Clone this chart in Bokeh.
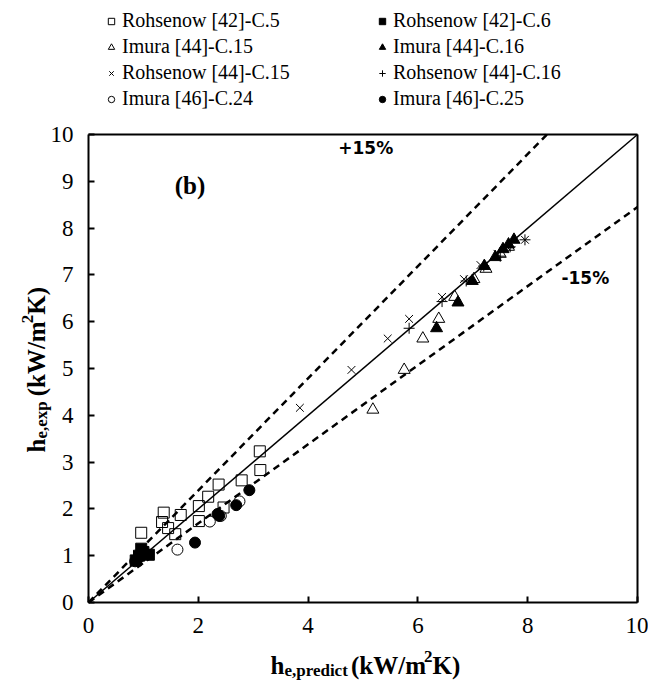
import math
from bokeh.plotting import figure
from bokeh.models import (Range1d, FixedTicker, Label, Legend, LegendItem, LinearAxis)
from bokeh.embed import file_html
from bokeh.resources import INLINE

# ---- data ----
c5_x = [0.96, 1.34, 1.37, 1.45, 1.58, 1.68, 2.01, 2.01, 2.18, 2.37, 2.46, 2.79, 3.12, 3.13]
c5_y = [1.49, 1.72, 1.92, 1.59, 1.46, 1.87, 1.74, 2.06, 2.26, 2.52, 2.03, 2.61, 3.23, 2.83]

c6_x = [0.86, 0.92, 0.96, 1.00, 1.10]
c6_y = [0.90, 1.00, 1.15, 1.08, 1.02]

im15_x = [5.18, 5.75, 6.09, 6.38, 6.67, 7.02, 7.24, 7.50, 7.65]
im15_y = [4.12, 4.97, 5.64, 6.06, 6.53, 6.91, 7.13, 7.45, 7.60]

im16_x = [6.34, 6.73, 6.99, 7.21, 7.41, 7.55, 7.65, 7.75]
im16_y = [5.86, 6.41, 6.87, 7.19, 7.38, 7.55, 7.65, 7.75]

ro15_x = [3.85, 4.79, 5.45, 5.84, 6.44, 6.84, 7.14, 7.45, 7.62, 7.95]
ro15_y = [4.16, 4.97, 5.64, 6.06, 6.53, 6.91, 7.21, 7.45, 7.60, 7.75]

ro16_x = [5.84, 6.44, 6.88, 7.20, 7.50, 7.68, 7.95]
ro16_y = [5.86, 6.43, 6.87, 7.19, 7.40, 7.60, 7.75]

im24_x = [0.88, 1.62, 2.21, 2.41, 2.75]
im24_y = [0.92, 1.13, 1.73, 1.85, 2.16]

im25_x = [0.85, 0.90, 1.94, 2.35, 2.38, 2.69, 2.93]
im25_y = [0.88, 0.95, 1.28, 1.89, 1.85, 2.08, 2.40]

diag_x = [0, 10]
diag_y = [0, 10]
upper_x = [0, 8.35]
upper_y = [0, 10]
lower_x = [0, 10]
lower_y = [0, 8.45]

x_ticks = [0, 2, 4, 6, 8, 10]
y_ticks = [0, 1, 2, 3, 4, 5, 6, 7, 8, 9, 10]
axis_min, axis_max = 0, 10

labels = ["Rohsenow [42]-C.5", "Rohsenow [42]-C.6",
          "Imura [44]-C.15", "Imura [44]-C.16",
          "Rohsenow [44]-C.15", "Rohsenow [44]-C.16",
          "Imura [46]-C.24", "Imura [46]-C.25"]

SERIF = "Liberation Serif, Times New Roman, serif"
SANS = "DejaVu Sans"

W, H = 648, 683
# the data box sits at x 88..637 px and y 134..602 px of the canvas
px_per_x = (637 - 88) / 10.0
px_per_y = (602 - 134) / 10.0
x_start = -88 / px_per_x
x_end = x_start + W / px_per_x
y_end = 602 / px_per_y
y_start = y_end - H / px_per_y

p = figure(width=W, height=H, output_backend="svg", toolbar_location=None,
           x_range=Range1d(x_start, x_end), y_range=Range1d(y_start, y_end),
           min_border=0, x_axis_location=None, y_axis_location=None)
p.grid.visible = False
p.background_fill_color = "white"
p.border_fill_color = "white"
p.outline_line_color = None


def make_axis(ticks, fixed, show_labels):
    ax = LinearAxis(ticker=FixedTicker(ticks=ticks), fixed_location=fixed,
                    bounds=(axis_min, axis_max))
    ax.axis_line_width = 2
    ax.axis_line_color = "black"
    ax.major_tick_in = 6
    ax.major_tick_out = 0
    ax.major_tick_line_width = 2
    ax.major_tick_line_color = "black"
    ax.minor_tick_line_color = None
    ax.major_label_text_font = SERIF
    ax.major_label_text_font_size = "23px"
    ax.major_label_text_color = "black"
    if not show_labels:
        ax.major_tick_line_color = None
        ax.major_label_text_alpha = 0
    return ax

xb = make_axis(x_ticks, axis_min, True)
xb.major_label_standoff = 15
yl = make_axis(y_ticks, axis_min, True)
yl.major_label_standoff = 15
xt = make_axis([], axis_max, False)
yr = make_axis([], axis_max, False)
p.add_layout(xb, "below")
p.add_layout(yl, "left")
p.add_layout(xt, "above")
p.add_layout(yr, "right")

# reference lines
p.line(diag_x, diag_y, line_color="black", line_width=1.5)
p.line(upper_x, upper_y, line_color="black", line_width=2.5, line_dash="7 5")
p.line(lower_x, lower_y, line_color="black", line_width=2.5, line_dash="7 5")

S = 11
r1 = p.scatter(c5_x, c5_y, marker="square", size=S, fill_color=None, line_color="black", line_width=1)
r2 = p.scatter(c6_x, c6_y, marker="square", size=S, fill_color="black", line_color="black")
r3 = p.scatter(im15_x, im15_y, marker="triangle", size=S + 1, fill_color=None, line_color="black", line_width=1)
r4 = p.scatter(im16_x, im16_y, marker="triangle", size=S + 1, fill_color="black", line_color="black")
r5 = p.scatter(ro15_x, ro15_y, marker="x", size=S, line_color="black", line_width=1)
r6 = p.scatter(ro16_x, ro16_y, marker="cross", size=S, line_color="black", line_width=1)
r7 = p.scatter(im24_x, im24_y, marker="circle", size=S, fill_color=None, line_color="black", line_width=1)
r8 = p.scatter(im25_x, im25_y, marker="circle", size=S, fill_color="black", line_color="black")

rs = [r1, r2, r3, r4, r5, r6, r7, r8]
# legend fills column by column: left column first, then right column
order = [0, 2, 4, 6, 1, 3, 5, 7]
legend = Legend(items=[LegendItem(label=labels[i], renderers=[rs[i]]) for i in order],
                ncols=2, location=(103, H - 110), orientation="vertical")
legend.border_line_color = None
legend.background_fill_alpha = 0
legend.padding = 0
legend.margin = 0
legend.spacing = 3
legend.glyph_width = 16
legend.glyph_height = 16
legend.label_height = 20
legend.label_width = 249
legend.label_standoff = 3
legend.label_text_font = SERIF
legend.label_text_font_size = "20px"
legend.label_text_color = "black"
legend.label_text_baseline = "middle"
p.add_layout(legend, "center")

# annotations
for txt, x, y, font, size in [("+15%", 5.05, 9.72, SANS, "17px"),
                              ("-15%", 9.05, 6.93, SANS, "17px"),
                              ("(b)", 1.85, 8.92, SERIF, "25px")]:
    p.add_layout(Label(x=x, y=y, text=txt, text_font=font, text_font_style="bold",
                       text_font_size=size, text_color="black",
                       text_align="center", text_baseline="middle"))

# composite axis titles (main text + subscript + superscript)
F = 25
s = 17
SP = 0.25 * F  # width of the space before the bracket

# x title
xt_y = (602 - 665) / px_per_y
x0 = (270 - 88) / px_per_x
pieces_x = [("h", F, 0, 0.556 * F), ("e,predict", s, -5, 3.55 * s + SP),
            ("(kW/m", F, 0, 2.92 * F), ("2", s, 9, 0.5 * s), ("K)", F, 0, 1.111 * F)]
off = 0.0
for txt, size, dy, adv in pieces_x:
    p.add_layout(Label(x=x0, y=xt_y, x_offset=off, y_offset=dy, text=txt, text_font=SERIF,
                       text_font_style="bold", text_font_size=f"{size}px", text_color="black",
                       text_align="left", text_baseline="alphabetic"))
    off += adv

# y title (rotated, reading upward)
yt_x = (36 - 88) / px_per_x
y0 = (602 - 452) / px_per_y
pieces_y = [("h", F, 0, 0.556 * F), ("e,exp", s, -5, 2.12 * s + SP),
            ("(kW/m", F, 0, 2.92 * F), ("2", s, 9, 0.5 * s), ("K)", F, 0, 1.111 * F)]
off = 0.0
for txt, size, dx, adv in pieces_y:
    p.add_layout(Label(x=yt_x, y=y0, x_offset=-dx, y_offset=off, text=txt, text_font=SERIF,
                       text_font_style="bold", text_font_size=f"{size}px", angle=math.pi / 2,
                       text_color="black", text_align="left", text_baseline="alphabetic"))
    off += adv

open("out.html", "w").write(file_html(p, INLINE))
